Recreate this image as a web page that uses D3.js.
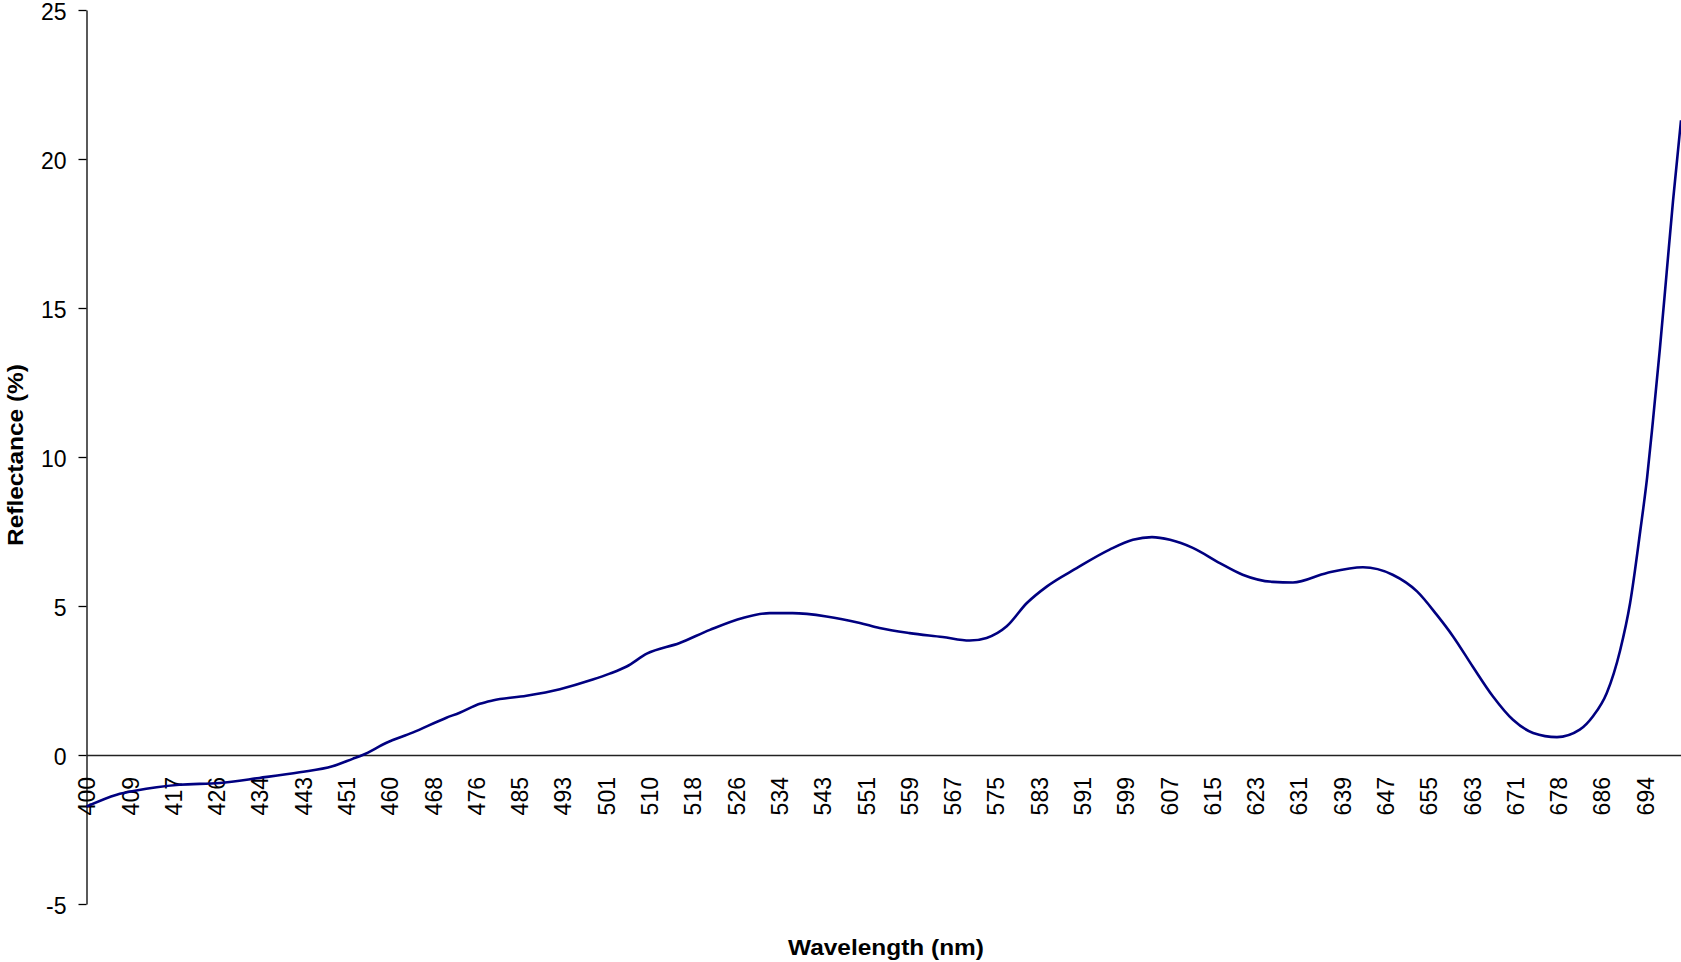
<!DOCTYPE html>
<html>
<head>
<meta charset="utf-8">
<script src="https://cdn.jsdelivr.net/npm/d3@7"></script>
<style>
  html, body { margin: 0; padding: 0; background: #fff; }
  svg { display: block; font-family: "Liberation Sans", Arial, sans-serif; }
</style>
</head>
<body>
<svg id="chart" width="1681" height="962"></svg>
<script>
// ---- Data ----
const wavelengths = [400.0, 405.7, 409.4, 417.5, 425.1, 432.6, 440.2, 446.4, 450.2, 452.1,
  456.6, 461.5, 467.9, 470.4, 474.2, 476.6, 483.0, 489.3, 495.5, 498.7,
  501.9, 505.7, 511.9, 517.6, 523.8, 528.9, 533.2, 539.6, 545.9, 549.6,
  555.3, 561.5, 566.6, 569.8, 573.6, 577.4, 581.2, 586.8, 593.0, 597.4,
  601.0, 604.4, 608.7, 613.8, 618.1, 623.8, 627.6, 634.0, 640.8, 646.4,
  651.0, 654.7, 657.8, 661.5, 665.3, 669.1, 672.9, 677.4, 681.7, 684.2,
  686.8, 689.3, 691.2, 693.1, 694.4, 695.5, 696.8, 698.1, 699.3, 700.8];
const reflectance = [-1.73, -1.33, -1.19, -1.00, -0.94, -0.77, -0.58, -0.38, -0.13, 0.00,
  0.41, 0.75, 1.25, 1.42, 1.72, 1.83, 1.99, 2.21, 2.53, 2.73,
  2.97, 3.40, 3.76, 4.20, 4.60, 4.76, 4.76, 4.65, 4.43, 4.26,
  4.09, 3.96, 3.84, 3.93, 4.32, 5.10, 5.66, 6.27, 6.89, 7.22,
  7.31, 7.22, 6.95, 6.44, 6.05, 5.81, 5.79, 6.11, 6.30, 6.05,
  5.49, 4.71, 3.98, 2.97, 1.97, 1.18, 0.74, 0.60, 0.85, 1.30,
  2.08, 3.50, 5.10, 7.50, 9.30, 11.2, 13.6, 16.2, 18.6, 21.3];
const tickLabels = ["400","409","417","426","434","443","451","460","468","476",
  "485","493","501","510","518","526","534","543","551","559",
  "567","575","583","591","599","607","615","623","631","639",
  "647","655","663","671","678","686","694"];
const yTicks = [-5, 0, 5, 10, 15, 20, 25];
const xTitle = "Wavelength (nm)";
const yTitle = "Reflectance (%)";

// ---- Layout ----
const svg = d3.select("#chart");
const mLeft = 86.5, mRight = 1681, mTop = 10, mBottom = 904;

const x = d3.scaleLinear().domain([400, 700.8]).range([mLeft, mRight]);
const y = d3.scaleLinear().domain([-5, 25]).range([mBottom, mTop]);

const firstNm = 400, lastNm = 694;
const tickPos = tickLabels.map((d, i) => firstNm + i * (lastNm - firstNm) / (tickLabels.length - 1));

// Y axis
const yAxis = svg.append("g")
  .attr("transform", `translate(${mLeft},0)`)
  .call(d3.axisLeft(y).tickValues(yTicks).tickSize(8).tickSizeOuter(0).tickPadding(12)
    .tickFormat(d => String(d)));
yAxis.select(".domain").attr("stroke", "#000").attr("stroke-width", 1.3);
yAxis.selectAll(".tick line").attr("stroke", "#000").attr("stroke-width", 1.3);
yAxis.selectAll(".tick text")
  .attr("font-size", 23).attr("fill", "#000")
  .attr("font-family", "'Liberation Sans', Arial, sans-serif")
  .attr("dy", "0.42em");

// X axis crossing at 0
const xAxis = svg.append("g")
  .attr("transform", `translate(0,${y(0)})`)
  .call(d3.axisBottom(x).tickValues(tickPos).tickSize(0).tickSizeOuter(0)
    .tickFormat((d, i) => tickLabels[i]));
xAxis.select(".domain").attr("stroke", "#222").attr("stroke-width", 1.5);
xAxis.selectAll(".tick text")
  .attr("font-size", 23).attr("fill", "#000")
  .attr("font-family", "'Liberation Sans', Arial, sans-serif")
  .attr("text-anchor", "end")
  .attr("transform", "rotate(-90)")
  .attr("x", -22)
  .attr("y", 0)
  .attr("dy", "0.36em");

// Line
const pts = wavelengths.map((w, i) => [w, reflectance[i]]);
const line = d3.line().x(d => x(d[0])).y(d => y(d[1])).curve(d3.curveMonotoneX);
svg.append("path")
  .datum(pts)
  .attr("d", line)
  .attr("fill", "none")
  .attr("stroke", "#000080")
  .attr("stroke-width", 2.6)
  .attr("stroke-linejoin", "round");

// Axis titles
svg.append("text")
  .attr("x", 886).attr("y", 955)
  .attr("text-anchor", "middle")
  .attr("font-size", 22.5).attr("font-weight", "bold")
  .attr("textLength", 196).attr("lengthAdjust", "spacingAndGlyphs")
  .text(xTitle);

svg.append("text")
  .attr("transform", `translate(23,455) rotate(-90)`)
  .attr("text-anchor", "middle")
  .attr("font-size", 22.5).attr("font-weight", "bold")
  .attr("textLength", 182).attr("lengthAdjust", "spacingAndGlyphs")
  .text(yTitle);
</script>
</body>
</html>
